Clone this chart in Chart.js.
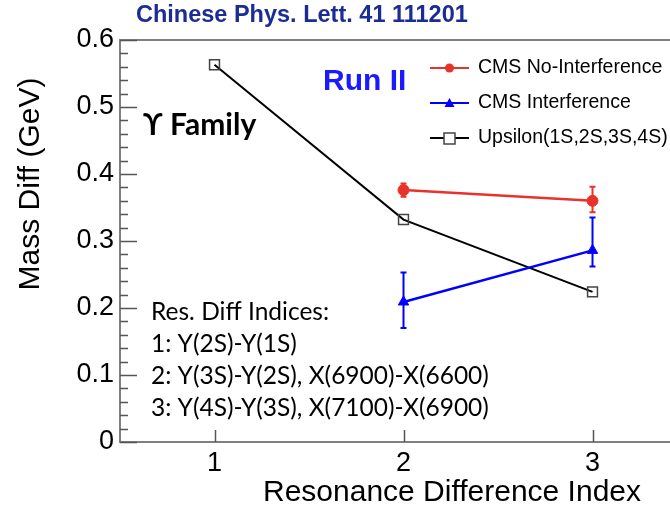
<!DOCTYPE html>
<html>
<head>
<meta charset="utf-8">
<script src="https://cdn.jsdelivr.net/npm/chart.js@4.4.1/dist/chart.umd.min.js"></script>
<style>
  html, body { margin: 0; padding: 0; background: #fff; overflow: hidden; }
  canvas { display: block; }
</style>
</head>
<body>
<canvas id="chart" width="670" height="510"></canvas>
<script>
// data
const xTicks = [1, 2, 3];
const yTicks = [0, 0.1, 0.2, 0.3, 0.4, 0.5, 0.6];

const upsIdx = [1, 2, 3];
const upsDiff = [0.563, 0.332, 0.224];

const cmsIdx = [2, 3];
const noIntDiff = [0.376, 0.360];
const noIntErrUp = [0.010, 0.021];
const noIntErrDn = [0.010, 0.017];

const intDiff = [0.209, 0.286];
const intErrUp = [0.044, 0.049];
const intErrDn = [0.039, 0.024];

const notes = [
    'Res. Diff Indices:',
    '1: Y(2S)-Y(1S)',
    '2: Y(3S)-Y(2S), X(6900)-X(6600)',
    '3: Y(4S)-Y(3S), X(7100)-X(6900)'
];

const RED = '#e8332a';
const BLUE = '#0000ff';
const BLACK = '#000000';
const FRAME = '#808080';
const SANS = '"Liberation Sans", Arial, sans-serif';

function pts(xs, ys) {
    return xs.map((x, i) => ({ x: x, y: ys[i] }));
}

// vertical error bars with small caps
const errorBars = {
    id: 'errorBars',
    afterDatasetsDraw(chart) {
        const ctx = chart.ctx;
        const xs = chart.scales.x, ys = chart.scales.y;
        chart.data.datasets.forEach(ds => {
            if (!ds.errUp) return;
            ctx.save();
            ctx.strokeStyle = ds.borderColor;
            ctx.lineWidth = 2;
            ds.data.forEach((p, i) => {
                const px = xs.getPixelForValue(p.x);
                const top = ys.getPixelForValue(p.y + ds.errUp[i]);
                const bot = ys.getPixelForValue(p.y - ds.errDn[i]);
                ctx.beginPath();
                ctx.moveTo(px, top); ctx.lineTo(px, bot);
                ctx.moveTo(px - 3, top); ctx.lineTo(px + 3, top);
                ctx.moveTo(px - 3, bot); ctx.lineTo(px + 3, bot);
                ctx.stroke();
            });
            ctx.restore();
        });
    }
};

// ROOT-like frame: inside ticks, minor ticks on y, open on the right
const frame = {
    id: 'frame',
    beforeDatasetsDraw(chart) {
        const ctx = chart.ctx;
        const a = chart.chartArea;
        const xs = chart.scales.x, ys = chart.scales.y;
        ctx.save();
        ctx.strokeStyle = FRAME;
        ctx.lineWidth = 2;
        ctx.beginPath();
        ctx.moveTo(chart.width, a.top); ctx.lineTo(a.left, a.top);
        ctx.lineTo(a.left, a.bottom); ctx.lineTo(chart.width, a.bottom);
        ctx.stroke();

        ctx.strokeStyle = '#555';
        ctx.lineWidth = 1.5;
        ctx.beginPath();
        for (let v = 0; v <= 0.6001; v += 0.02) {
            const py = Math.round(ys.getPixelForValue(v)) + 0.5;
            const major = Math.abs(v * 10 - Math.round(v * 10)) < 1e-6;
            ctx.moveTo(a.left, py);
            ctx.lineTo(a.left + (major ? 17 : 8), py);
        }
        xTicks.forEach(v => {
            const px = Math.round(xs.getPixelForValue(v)) + 0.5;
            ctx.moveTo(px, a.bottom);
            ctx.lineTo(px, a.bottom - 12);
        });
        ctx.stroke();
        ctx.restore();
    }
};

// texts, titles and legend
const labels = {
    id: 'labels',
    afterDraw(chart) {
        const ctx = chart.ctx;
        ctx.save();
        ctx.textBaseline = 'middle';

        ctx.fillStyle = '#1b2c95';
        ctx.font = 'bold 23.5px ' + SANS;
        ctx.textAlign = 'left';
        ctx.fillText('Chinese Phys. Lett. 41 111201', 136, 16);

        ctx.fillStyle = BLACK;
        ctx.font = '30px ' + SANS;
        ctx.textAlign = 'right';
        ctx.fillText('Resonance Difference Index', 641, 493);

        ctx.save();
        ctx.translate(31, 184);
        ctx.rotate(-Math.PI / 2);
        ctx.textAlign = 'center';
        ctx.fillText('Mass Diff (GeV)', 0, 0);
        ctx.restore();

        ctx.textAlign = 'left';
        ctx.fillStyle = '#1a1aff';
        ctx.font = 'bold 30px ' + SANS;
        ctx.fillText('Run II', 323, 82);

        ctx.fillStyle = BLACK;
        ctx.font = 'bold 30px Lato, "Open Sans", sans-serif';
        ctx.fillText('\u03d2 Family', 143, 125);

        ctx.font = '24.5px Lato, "Open Sans", sans-serif';
        notes.forEach((t, i) => ctx.fillText(t, 151, 312 + i * 32));

        // legend
        ctx.font = '19.5px ' + SANS;
        chart.data.datasets.forEach((ds, i) => {
            const y = 68 + i * 35;
            ctx.strokeStyle = ds.borderColor;
            ctx.lineWidth = 2;
            ctx.beginPath();
            ctx.moveTo(430, y); ctx.lineTo(469, y);
            ctx.stroke();
            ctx.fillStyle = ds.pointBackgroundColor;
            ctx.strokeStyle = ds.pointBorderColor;
            ctx.lineWidth = ds.pointBorderWidth;
            ctx.beginPath();
            if (ds.pointStyle === 'circle') {
                ctx.arc(449.5, y, 4.5, 0, Math.PI * 2);
                ctx.fill();
            } else if (ds.pointStyle === 'triangle') {
                ctx.moveTo(449.5, y - 5); ctx.lineTo(454.5, y + 4); ctx.lineTo(444.5, y + 4);
                ctx.closePath(); ctx.fill();
            } else {
                ctx.fillStyle = '#fff';
                ctx.fillRect(444, y - 5, 11, 11);
                ctx.strokeRect(444, y - 5, 11, 11);
            }
            ctx.fillStyle = BLACK;
            ctx.fillText(ds.label, 478, y);
        });
        ctx.restore();
    }
};

new Chart(document.getElementById('chart'), {
    type: 'line',
    data: {
        datasets: [
            {
                label: 'CMS No-Interference',
                data: pts(cmsIdx, noIntDiff),
                errUp: noIntErrUp, errDn: noIntErrDn,
                borderColor: RED, borderWidth: 2.5,
                pointStyle: 'circle', pointRadius: 5.5,
                pointBackgroundColor: RED, pointBorderColor: RED, pointBorderWidth: 1
            },
            {
                label: 'CMS Interference',
                data: pts(cmsIdx, intDiff),
                errUp: intErrUp, errDn: intErrDn,
                borderColor: BLUE, borderWidth: 2.5,
                pointStyle: 'triangle', pointRadius: 6,
                pointBackgroundColor: BLUE, pointBorderColor: BLUE, pointBorderWidth: 1
            },
            {
                label: 'Upsilon(1S,2S,3S,4S)',
                data: pts(upsIdx, upsDiff),
                borderColor: BLACK, borderWidth: 2,
                pointStyle: 'rect', pointRadius: 7,
                pointBackgroundColor: 'rgba(0,0,0,0)', pointBorderColor: '#444', pointBorderWidth: 1.5
            }
        ]
    },
    options: {
        responsive: false,
        animation: false,
        devicePixelRatio: 1,
        layout: { autoPadding: false, padding: { top: 40, right: 0, left: 0, bottom: 0 } },
        plugins: { legend: { display: false }, tooltip: { enabled: false } },
        elements: { line: { tension: 0 } },
        scales: {
            x: {
                type: 'linear', min: 0.5, max: 3.41,
                afterBuildTicks: s => { s.ticks = xTicks.map(v => ({ value: v })); },
                afterFit: s => { s.height = 68; },
                grid: { display: false, drawTicks: false },
                border: { display: false },
                ticks: { color: BLACK, font: { size: 27, family: SANS }, padding: 5 }
            },
            y: {
                min: 0, max: 0.6,
                afterBuildTicks: s => { s.ticks = yTicks.map(v => ({ value: v })); },
                afterFit: s => { s.width = 120; },
                grid: { display: false, drawTicks: false },
                border: { display: false },
                ticks: { color: BLACK, font: { size: 27, family: SANS }, padding: 6,
                         callback: v => String(Math.round(v * 10) / 10) }
            }
        }
    },
    plugins: [frame, errorBars, labels]
});
</script>
</body>
</html>
